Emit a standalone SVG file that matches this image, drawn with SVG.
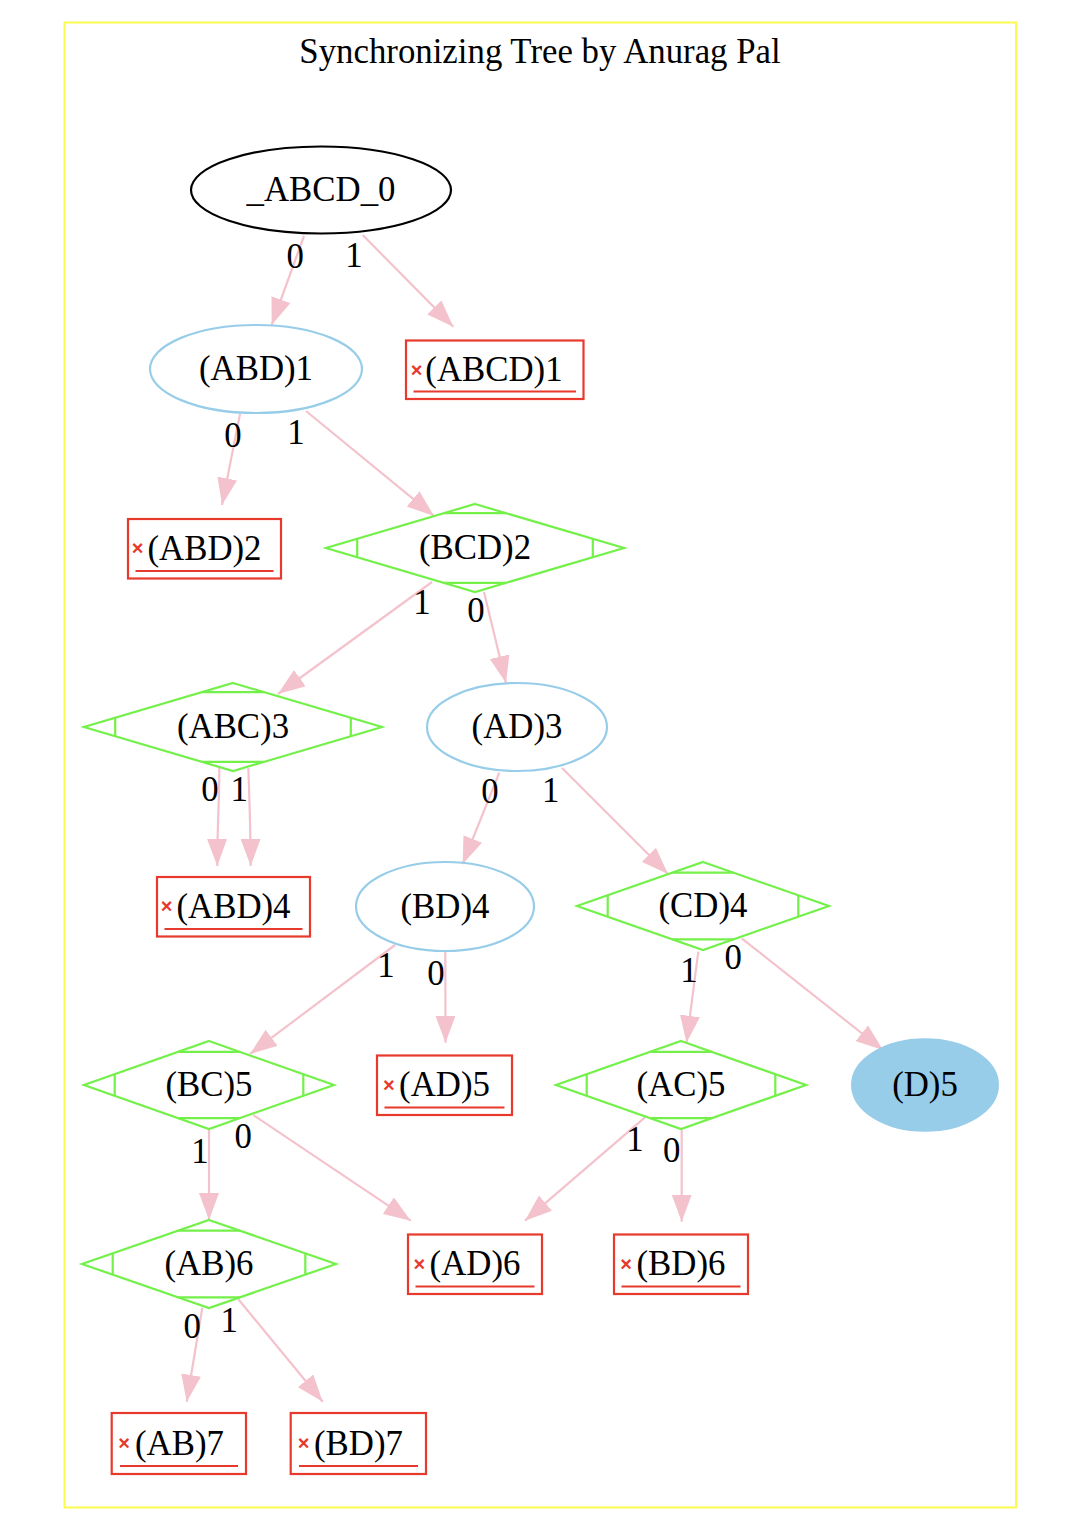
<svg xmlns="http://www.w3.org/2000/svg" width="1076" height="1528" viewBox="0 0 1076 1528">
<style>
  text { font-family: "Liberation Serif", "Times New Roman", serif; font-size: 34.8px; fill: #000; }
  .lbl { text-anchor: middle; }
  .x { font-family: "Liberation Sans", Arial, sans-serif; font-size: 20px; font-weight: bold; fill: #e8392d; text-anchor: middle; }
  .frame { fill: none; stroke: #fbfb4e; stroke-width: 2; }
  .ell { fill: none; stroke: #97cde8; stroke-width: 2.2; }
  .root { fill: none; stroke: #000; stroke-width: 2.2; }
  .filled { fill: #97cde8; stroke: #97cde8; stroke-width: 2; }
  .dia { fill: none; stroke: #74f04a; stroke-width: 2.2; }
  .box { fill: none; stroke: #e8392d; stroke-width: 2.2; }
  .ul { stroke: #e8392d; stroke-width: 2.2; }
  .edge { fill: none; stroke: #f4c2cc; stroke-width: 2.2; marker-end: url(#arr); }
</style>
<defs>
  <marker id="arr" markerUnits="userSpaceOnUse" markerWidth="28" markerHeight="20" refX="27" refY="10" orient="auto" viewBox="0 0 28 20">
    <path d="M0,0 L27,10 L0,20 Z" fill="#f4c2cc"/>
  </marker>
</defs>
<rect width="1076" height="1528" fill="#fff"/>
<rect class="frame" x="64.5" y="22.5" width="951.5" height="1485"/>
<text class="lbl" x="540" y="63">Synchronizing Tree by Anurag Pal</text>

<g id="connectors">
  <path class="edge" d="M304,236 L271.7,325"/>
  <path class="edge" d="M362.7,235 L453.3,326.7"/>
  <path class="edge" d="M240,414 L222,505"/>
  <path class="edge" d="M306,411 L434,516"/>
  <path class="edge" d="M432,582 L278,694"/>
  <path class="edge" d="M484,592 L506,683"/>
  <path class="edge" d="M219.3,768 C219.5,800 217,830 217.3,866"/>
  <path class="edge" d="M248.3,768 C249.5,800 250.5,830 250.7,866"/>
  <path class="edge" d="M499.3,772.7 L462.7,864"/>
  <path class="edge" d="M562,768 L668,874"/>
  <path class="edge" d="M395,945 L250,1054"/>
  <path class="edge" d="M445.3,952 L445.5,1042.7"/>
  <path class="edge" d="M698.3,951.7 L686.5,1042.7"/>
  <path class="edge" d="M741.7,938.3 L883,1050"/>
  <path class="edge" d="M209,1130 L209,1220"/>
  <path class="edge" d="M253.3,1115 L410.7,1220.7"/>
  <path class="edge" d="M645,1117.3 L525,1220.7"/>
  <path class="edge" d="M681.7,1130 L681.7,1221.7"/>
  <path class="edge" d="M202.3,1307.7 L186.7,1401.7"/>
  <path class="edge" d="M238.3,1299.3 L322.7,1401.7"/>
  <g class="elabels">
    <text class="lbl" x="295.3" y="268">0</text>
    <text class="lbl" x="354" y="266.5">1</text>
    <text class="lbl" x="233" y="446.5">0</text>
    <text class="lbl" x="296" y="443.5">1</text>
    <text class="lbl" x="422" y="613.5">1</text>
    <text class="lbl" x="476" y="621.5">0</text>
    <text class="lbl" x="210" y="800.8">0</text>
    <text class="lbl" x="239.3" y="800.8">1</text>
    <text class="lbl" x="490" y="803.2">0</text>
    <text class="lbl" x="550.7" y="801.5">1</text>
    <text class="lbl" x="386" y="976.5">1</text>
    <text class="lbl" x="436" y="984.8">0</text>
    <text class="lbl" x="689" y="981.5">1</text>
    <text class="lbl" x="733.3" y="968.8">0</text>
    <text class="lbl" x="200" y="1163.2">1</text>
    <text class="lbl" x="243.3" y="1148.2">0</text>
    <text class="lbl" x="635" y="1150.5">1</text>
    <text class="lbl" x="671.7" y="1162.2">0</text>
    <text class="lbl" x="192.3" y="1338.2">0</text>
    <text class="lbl" x="229.3" y="1331.5">1</text>
  </g>
</g>

<g id="n_ABCD_0">
  <ellipse class="root" cx="321" cy="190" rx="130" ry="43.5"/>
  <text class="lbl" x="321" y="201">_ABCD_0</text>
</g>
<g id="n_ABD1">
  <ellipse class="ell" cx="256" cy="369" rx="106" ry="44"/>
  <text class="lbl" x="256" y="380">(ABD)1</text>
</g>
<g id="n_ABCD1">
  <rect class="box" x="406" y="340.5" width="177.5" height="58.5"/>
  <line class="ul" x1="413.5" y1="391.5" x2="576" y2="391.5"/>
  <text class="x" x="416.5" y="376.5">×</text>
  <text class="lbl" x="494" y="381">(ABCD)1</text>
</g>
<g id="n_ABD2">
  <rect class="box" x="128" y="519" width="153" height="59.5"/>
  <line class="ul" x1="135.5" y1="571" x2="273.5" y2="571"/>
  <text class="x" x="137.5" y="555">×</text>
  <text class="lbl" x="204.5" y="559.5">(ABD)2</text>
</g>
<g id="n_BCD2">
  <polygon class="dia" points="475,504 624,548 475,592 326,548"/>
  <path class="dia" d="M443.8,513.2 H506.2 M443.8,582.8 H506.2 M357.2,538.8 V557.2 M592.8,538.8 V557.2"/>
  <text class="lbl" x="475" y="559">(BCD)2</text>
</g>
<g id="n_ABC3">
  <polygon class="dia" points="233,683 382,727 233,771 84,727"/>
  <path class="dia" d="M201.8,692.2 H264.2 M201.8,761.8 H264.2 M115.2,717.8 V736.2 M350.8,717.8 V736.2"/>
  <text class="lbl" x="233" y="738">(ABC)3</text>
</g>
<g id="n_AD3">
  <ellipse class="ell" cx="517" cy="727" rx="90" ry="44"/>
  <text class="lbl" x="517" y="738">(AD)3</text>
</g>
<g id="n_ABD4">
  <rect class="box" x="157" y="877" width="153" height="59.5"/>
  <line class="ul" x1="164.5" y1="929" x2="302.5" y2="929"/>
  <text class="x" x="166.5" y="913">×</text>
  <text class="lbl" x="233.5" y="917.5">(ABD)4</text>
</g>
<g id="n_BD4">
  <ellipse class="ell" cx="445" cy="906.5" rx="89" ry="44.5"/>
  <text class="lbl" x="445" y="917.5">(BD)4</text>
</g>
<g id="n_CD4">
  <polygon class="dia" points="703,862 829,906 703,950 577,906"/>
  <path class="dia" d="M672.3,872.7 H733.7 M672.3,939.3 H733.7 M607.7,895.3 V916.7 M798.3,895.3 V916.7"/>
  <text class="lbl" x="703" y="917">(CD)4</text>
</g>
<g id="n_BC5">
  <polygon class="dia" points="209,1041 334,1085 209,1129 84,1085"/>
  <path class="dia" d="M178.3,1051.8 H239.7 M178.3,1118.2 H239.7 M114.7,1074.2 V1095.8 M303.3,1074.2 V1095.8"/>
  <text class="lbl" x="209" y="1096">(BC)5</text>
</g>
<g id="n_AD5">
  <rect class="box" x="377" y="1055.5" width="135" height="59.5"/>
  <line class="ul" x1="384.5" y1="1107.5" x2="504.5" y2="1107.5"/>
  <text class="x" x="388.8" y="1091.5">×</text>
  <text class="lbl" x="444.5" y="1096">(AD)5</text>
</g>
<g id="n_AC5">
  <polygon class="dia" points="681,1041 806,1085 681,1129 556,1085"/>
  <path class="dia" d="M650.3,1051.8 H711.7 M650.3,1118.2 H711.7 M586.7,1074.2 V1095.8 M775.3,1074.2 V1095.8"/>
  <text class="lbl" x="681" y="1096">(AC)5</text>
</g>
<g id="n_D5">
  <ellipse class="filled" cx="925" cy="1085" rx="73" ry="45.8"/>
  <text class="lbl" x="925" y="1096">(D)5</text>
</g>
<g id="n_AB6">
  <polygon class="dia" points="209,1220 336,1264 209,1308 82,1264"/>
  <path class="dia" d="M178.3,1230.6 H239.7 M178.3,1297.4 H239.7 M112.7,1253.4 V1274.6 M305.3,1253.4 V1274.6"/>
  <text class="lbl" x="209" y="1275">(AB)6</text>
</g>
<g id="n_AD6">
  <rect class="box" x="408" y="1234.5" width="134" height="59.5"/>
  <line class="ul" x1="415.5" y1="1286.5" x2="534.5" y2="1286.5"/>
  <text class="x" x="419.3" y="1270.5">×</text>
  <text class="lbl" x="475" y="1275">(AD)6</text>
</g>
<g id="n_BD6">
  <rect class="box" x="614" y="1234.5" width="134" height="59.5"/>
  <line class="ul" x1="621.5" y1="1286.5" x2="740.5" y2="1286.5"/>
  <text class="x" x="626" y="1270.5">×</text>
  <text class="lbl" x="681" y="1275">(BD)6</text>
</g>
<g id="n_AB7">
  <rect class="box" x="111.7" y="1413" width="134.3" height="61"/>
  <line class="ul" x1="120" y1="1466" x2="238" y2="1466"/>
  <text class="x" x="124" y="1450">×</text>
  <text class="lbl" x="179.5" y="1454.5">(AB)7</text>
</g>
<g id="n_BD7">
  <rect class="box" x="290.7" y="1413" width="135.3" height="61"/>
  <line class="ul" x1="299" y1="1466" x2="418" y2="1466"/>
  <text class="x" x="303.5" y="1450">×</text>
  <text class="lbl" x="358.5" y="1454.5">(BD)7</text>
</g>
</svg>
